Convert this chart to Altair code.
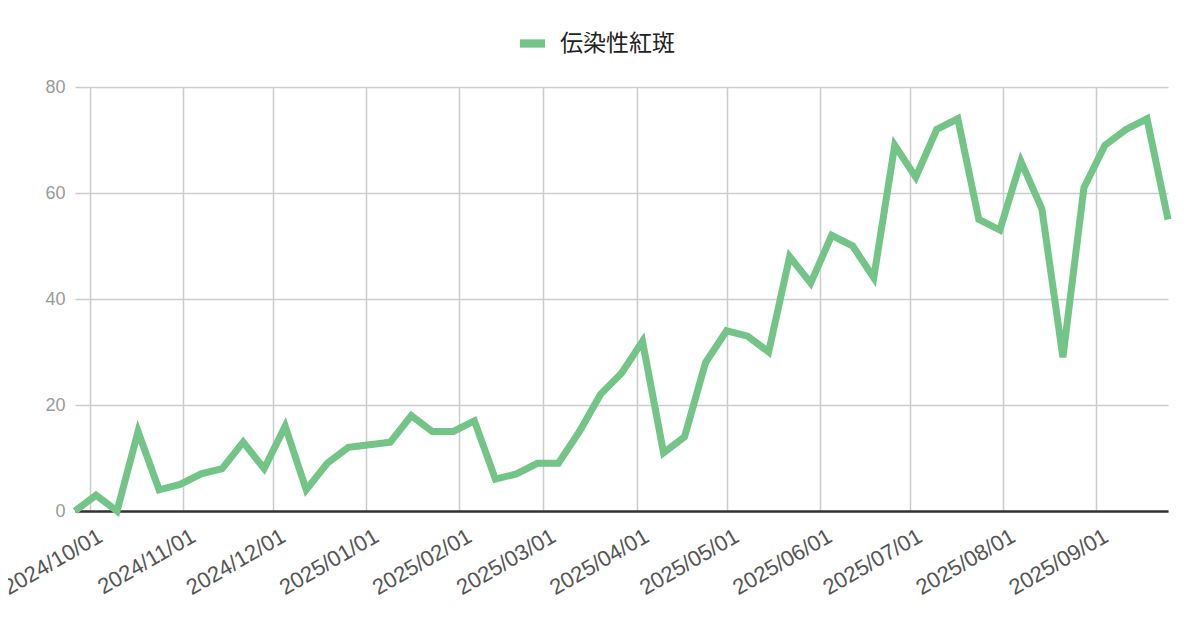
import altair as alt
import pandas as pd

dates = [
    "2024-09-26", "2024-10-03", "2024-10-10", "2024-10-17", "2024-10-24", "2024-10-31",
    "2024-11-07", "2024-11-14", "2024-11-21", "2024-11-28", "2024-12-05", "2024-12-12",
    "2024-12-19", "2024-12-26", "2025-01-02", "2025-01-09", "2025-01-16", "2025-01-23",
    "2025-01-30", "2025-02-06", "2025-02-13", "2025-02-20", "2025-02-27", "2025-03-06",
    "2025-03-13", "2025-03-20", "2025-03-27", "2025-04-03", "2025-04-10", "2025-04-17",
    "2025-04-24", "2025-05-01", "2025-05-08", "2025-05-15", "2025-05-22", "2025-05-29",
    "2025-06-05", "2025-06-12", "2025-06-19", "2025-06-26", "2025-07-03", "2025-07-10",
    "2025-07-17", "2025-07-24", "2025-07-31", "2025-08-07", "2025-08-14", "2025-08-21",
    "2025-08-28", "2025-09-04", "2025-09-11", "2025-09-18", "2025-09-25",
]
values = [
    0, 3, 0, 15, 4, 5,
    7, 8, 13, 8, 16, 4,
    9, 12, 12.5, 13, 18, 15,
    15, 17, 6, 7, 9, 9,
    15, 22, 26, 32, 11, 14,
    28, 34, 33, 30, 48, 43,
    52, 50, 44, 69, 63, 72,
    74, 55, 53, 66, 57, 29,
    61, 69, 72, 74, 55,
]
series_name = "伝染性紅斑"
line_color = "#72c487"

df = pd.DataFrame({"date": dates, "value": values, "series": [series_name] * len(dates)})

chart = (
    alt.Chart(df)
    .mark_line(strokeWidth=7, strokeJoin="miter")
    .encode(
        x=alt.X(
            "date:T",
            title=None,
            scale=alt.Scale(type="utc", nice=False),
            axis=alt.Axis(
                labelExpr="utcFormat(datum.value, '%Y/%m/%d')",
                tickCount="month",
                labelAngle=-30,
                labelAlign="right",
                labelBaseline="middle",
                labelFontSize=22,
                labelColor="#555555",
                labelFont="Liberation Sans",
                labelPadding=23,
                labelOffset=10,
                labelOverlap=False,
                labelBound=False,
                ticks=False,
                domainColor="#333333",
                domainWidth=2.5,
                gridColor="#cccccc",
                gridWidth=1.5,
            ),
        ),
        y=alt.Y(
            "value:Q",
            title=None,
            scale=alt.Scale(domain=[0, 80]),
            axis=alt.Axis(
                values=[0, 20, 40, 60, 80],
                labelFontSize=18,
                labelColor="#9a9a9a",
                labelFont="Liberation Sans",
                labelPadding=10,
                ticks=False,
                domain=False,
                gridColor="#cccccc",
                gridWidth=1.5,
            ),
        ),
        color=alt.Color(
            "series:N",
            scale=alt.Scale(range=[line_color]),
            legend=alt.Legend(
                title=None,
                orient="none",
                legendX=445,
                legendY=-56,
                symbolType="M-1,-0.33H1V0.33H-1Z",
                symbolSize=625,
                symbolStrokeWidth=0,
                symbolFillColor=line_color,
                symbolOpacity=1,
                labelFontSize=23,
                labelFont="Noto Sans CJK JP",
                labelColor="#222222",
                labelOffset=15,
                padding=0,
            ),
        ),
    )
    .properties(
        width=1093,
        height=424,
        autosize=alt.AutoSizeParams(type="none"),
        padding={"left": 67, "top": 79, "right": 24, "bottom": 100},
    )
    .configure_view(stroke=None)
)

chart.save("out.html", embed_options={"renderer": "svg", "actions": False})
